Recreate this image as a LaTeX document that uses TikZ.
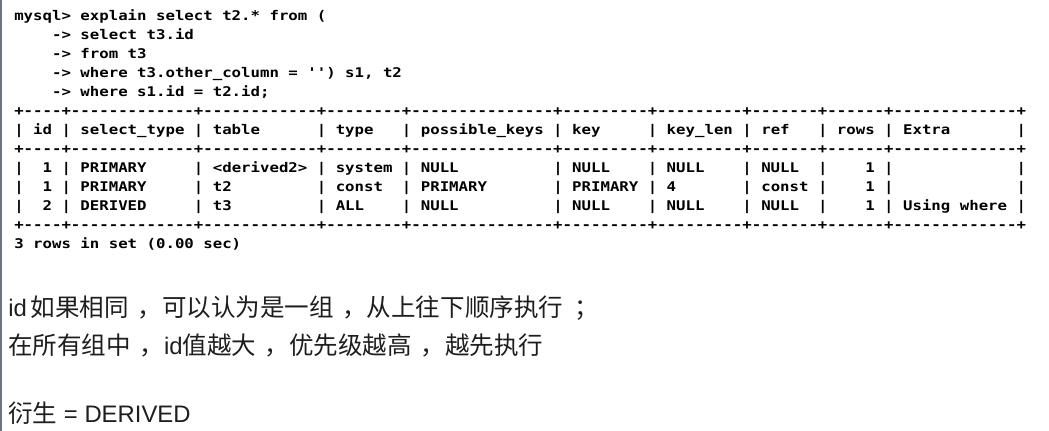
\documentclass[tikz,border=0pt]{standalone}
\usepackage{fontspec}
\setmainfont{Liberation Sans}
\newfontfamily\cjk{Noto Sans CJK SC}
\newfontfamily\termfont[Ligatures=TeXOff,FakeStretch=1.178]{DejaVu Sans Mono}
\definecolor{framegray}{RGB}{108,114,128}
\definecolor{notegray}{RGB}{30,30,30}
\newcommand{\zh}[1]{{\cjk\fontsize{18.4}{21}\selectfont #1}}
\newcommand{\dou}{\hspace{0.35em}，}
\begin{document}
\begin{tikzpicture}[x=0.75pt,y=0.75pt,yscale=-1,xscale=1,
    term/.style={font=\termfont\bfseries\fontsize{10}{12}\selectfont,anchor=base west,inner sep=0pt},
    note/.style={font=\fontsize{17.9}{20}\selectfont,text=notegray,anchor=base west,inner sep=0pt}]
                  \useasboundingbox (0,0) rectangle (1049,431);
                  \draw[framegray,line width=1.6pt] (1.2,0) -- (1.2,431);

                  \draw (14,20.5) node[term] (q1) {mysql> explain select t2.* from (};
                  \draw (14,39.5) node[term] (q2) {~~~~-> select t3.id};
                  \draw (14,58.5) node[term] (q3) {~~~~-> from t3};
                  \draw (14,77.5) node[term] (q4) {~~~~-> where t3.other\_column = '') s1, t2};
                  \draw (14,96.5) node[term] (q5) {~~~~-> where s1.id = t2.id;};

                  \draw (14,115.5) node[term] (b1) {+----+-------------+------------+--------+---------------+---------+---------+-------+------+-------------+};
                  \draw (14,134.5) node[term] (hd) {|~id~|~select\_type~|~table~~~~~~|~type~~~|~possible\_keys~|~key~~~~~|~key\_len~|~ref~~~|~rows~|~Extra~~~~~~~|};
                  \draw (14,153.5) node[term] (b2) {+----+-------------+------------+--------+---------------+---------+---------+-------+------+-------------+};
                  \draw (14,172.5) node[term] (r1) {|~~1~|~PRIMARY~~~~~|~<derived2>~|~system~|~NULL~~~~~~~~~~|~NULL~~~~|~NULL~~~~|~NULL~~|~~~~1~|~~~~~~~~~~~~~|};
                  \draw (14,191.5) node[term] (r2) {|~~1~|~PRIMARY~~~~~|~t2~~~~~~~~~|~const~~|~PRIMARY~~~~~~~|~PRIMARY~|~4~~~~~~~|~const~|~~~~1~|~~~~~~~~~~~~~|};
                  \draw (14,210.5) node[term] (r3) {|~~2~|~DERIVED~~~~~|~t3~~~~~~~~~|~ALL~~~~|~NULL~~~~~~~~~~|~NULL~~~~|~NULL~~~~|~NULL~~|~~~~1~|~Using~where~|};
                  \draw (14,229.5) node[term] (b3) {+----+-------------+------------+--------+---------------+---------+---------+-------+------+-------------+};
                  \draw (14,248.5) node[term] (ft) {3 rows in set (0.00 sec)};

                  \draw (8,316) node[note] (n1) {id\hspace{3pt}\zh{如果相同\dou 可以认为是一组\dou 从上往下顺序执行\hspace{0.45em}；}};
                  \draw (8,354) node[note] (n2) {\zh{在所有组中\dou}id\zh{值越大\dou 优先级越高\dou 越先执行}};
                  \draw (8,422.5) node[note] (n3) {\zh{衍生} = DERIVED};
\end{tikzpicture}
\end{document}
